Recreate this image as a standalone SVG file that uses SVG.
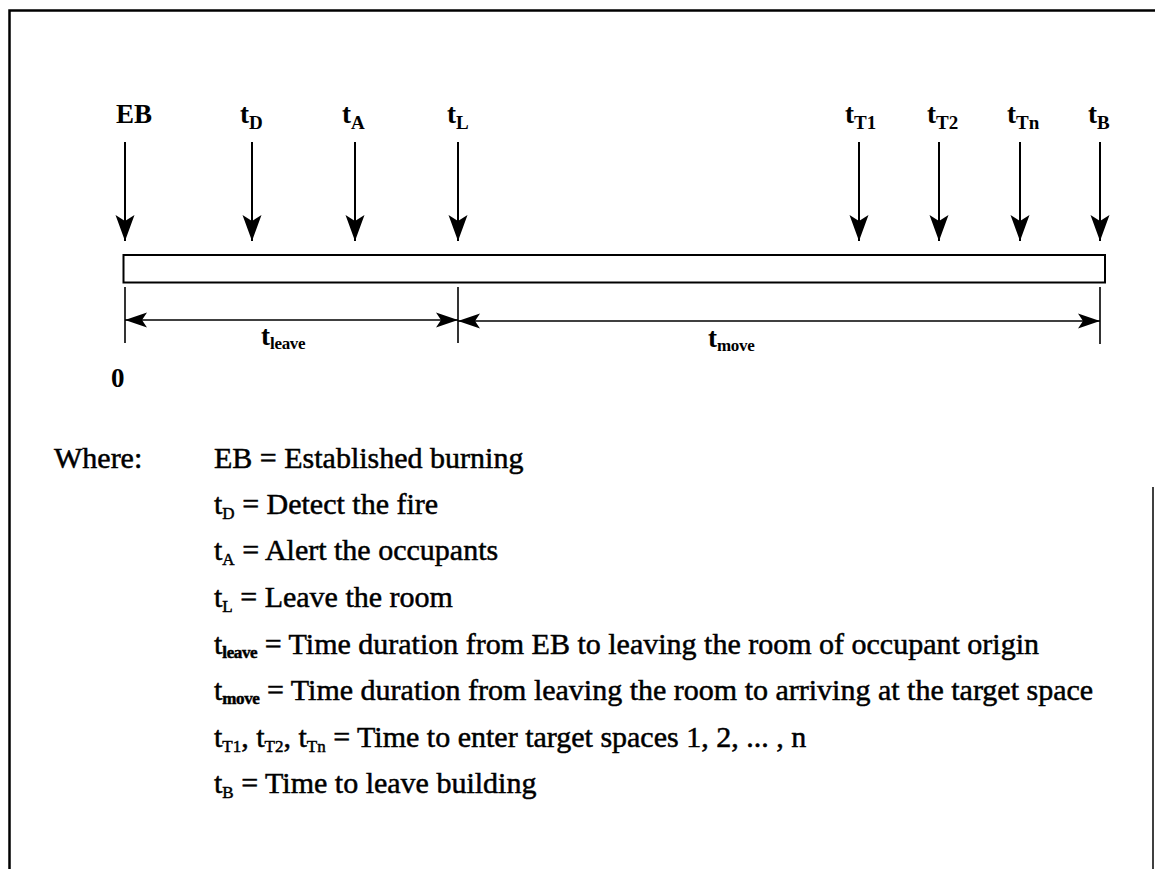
<svg xmlns="http://www.w3.org/2000/svg" width="1155" height="869" viewBox="0 0 1155 869">
<style>
.lbl{font-family:"Liberation Serif","Times New Roman",serif;font-weight:bold;font-size:27px;fill:#000}
.sub{font-size:19px}
.dsub{font-size:17px;letter-spacing:-0.3px}
.leg{font-family:"Liberation Serif","Times New Roman",serif;font-size:30px;fill:#000;stroke:#000;stroke-width:0.5px}
.lsub{font-size:17px}
.lsub2{font-size:17px;font-weight:bold;letter-spacing:-0.4px}
.ln{stroke:#000;stroke-width:2;fill:none}
.tk{stroke:#000;stroke-width:1.6;fill:none}
</style>
<defs>
<marker id="ah" markerUnits="userSpaceOnUse" markerWidth="30" markerHeight="24" refX="0" refY="0" viewBox="-27 -12 29 24" orient="auto">
<path d="M0,0 L-26,-9.5 L-20,0 L-26,9.5 Z" fill="#000"/>
</marker>
<marker id="dh" markerUnits="userSpaceOnUse" markerWidth="26" markerHeight="20" refX="0" refY="0" viewBox="-24 -10 26 20" orient="auto">
<path d="M0,0 L-22,-7.5 L-17,0 L-22,7.5 Z" fill="#000"/>
</marker>
</defs>
<rect width="1155" height="869" fill="#fff"/>
<g id="frame">
<path d="M9.5,869 L9.5,10.5 L1155,10.5" stroke="#000" stroke-width="2.5" fill="none"/>
<path d="M1153,487 L1153,869" stroke="#000" stroke-width="1.5" fill="none"/>
</g>
<g id="timeline-bar">
<rect x="123.5" y="255" width="981.5" height="27.5" fill="#fff" stroke="#000" stroke-width="2"/>
</g>
<g id="connectors">
<line class="ln" x1="125" y1="142" x2="125" y2="241" marker-end="url(#ah)"/>
<line class="ln" x1="252" y1="142" x2="252" y2="241" marker-end="url(#ah)"/>
<line class="ln" x1="355" y1="142" x2="355" y2="241" marker-end="url(#ah)"/>
<line class="ln" x1="458" y1="142" x2="458" y2="241" marker-end="url(#ah)"/>
<line class="ln" x1="859" y1="142" x2="859" y2="241" marker-end="url(#ah)"/>
<line class="ln" x1="939" y1="142" x2="939" y2="241" marker-end="url(#ah)"/>
<line class="ln" x1="1020" y1="142" x2="1020" y2="241" marker-end="url(#ah)"/>
<line class="ln" x1="1100" y1="142" x2="1100" y2="241" marker-end="url(#ah)"/>
<line class="tk" x1="125" y1="287" x2="125" y2="343"/>
<line class="tk" x1="458" y1="287" x2="458" y2="343"/>
<line class="tk" x1="1100" y1="287" x2="1100" y2="344"/>
<line class="tk" x1="291" y1="320" x2="125" y2="320" marker-end="url(#dh)"/>
<line class="tk" x1="291" y1="320" x2="458" y2="320" marker-end="url(#dh)"/>
<line class="tk" x1="778" y1="321" x2="458" y2="321" marker-end="url(#dh)"/>
<line class="tk" x1="778" y1="321" x2="1100" y2="321" marker-end="url(#dh)"/>
</g>
<g id="event-labels">
<text class="lbl" x="116" y="123">EB</text>
<text class="lbl" x="240" y="123">t<tspan class="sub" dy="6">D</tspan></text>
<text class="lbl" x="342" y="123">t<tspan class="sub" dy="6">A</tspan></text>
<text class="lbl" x="447" y="123">t<tspan class="sub" dy="6">L</tspan></text>
<text class="lbl" x="845" y="123">t<tspan class="sub" dy="6">T1</tspan></text>
<text class="lbl" x="927" y="123">t<tspan class="sub" dy="6">T2</tspan></text>
<text class="lbl" x="1007" y="123">t<tspan class="sub" dy="6">Tn</tspan></text>
<text class="lbl" x="1088" y="123">t<tspan class="sub" dy="6">B</tspan></text>
</g>
<g id="duration-labels">
<text class="lbl" x="261" y="345">t<tspan class="dsub" dy="4">leave</tspan></text>
<text class="lbl" x="708" y="347">t<tspan class="dsub" dy="4">move</tspan></text>
<text class="lbl" x="111" y="387">0</text>
</g>
<g id="legend">
<text class="leg" x="54" y="468">Where:</text>
<text class="leg" x="214" y="468">EB = Established burning</text>
<text class="leg" x="214" y="514">t<tspan class="lsub" dy="5">D</tspan><tspan dy="-5"> = Detect the fire</tspan></text>
<text class="leg" x="214" y="560">t<tspan class="lsub" dy="5">A</tspan><tspan dy="-5"> = Alert the occupants</tspan></text>
<text class="leg" x="214" y="607">t<tspan class="lsub" dy="5">L</tspan><tspan dy="-5"> = Leave the room</tspan></text>
<text class="leg" x="214" y="654">t<tspan class="lsub2" dy="4">leave</tspan><tspan dy="-4"> = Time duration from EB to leaving the room of occupant origin</tspan></text>
<text class="leg" x="214" y="700">t<tspan class="lsub2" dy="4">move</tspan><tspan dy="-4"> = Time duration from leaving the room to arriving at the target space</tspan></text>
<text class="leg" x="214" y="747">t<tspan class="lsub" dy="5">T1</tspan><tspan dy="-5">, t</tspan><tspan class="lsub" dy="5">T2</tspan><tspan dy="-5">, t</tspan><tspan class="lsub" dy="5">Tn</tspan><tspan dy="-5"> = Time to enter target spaces 1, 2, ... , n</tspan></text>
<text class="leg" x="214" y="793">t<tspan class="lsub" dy="5">B</tspan><tspan dy="-5"> = Time to leave building</tspan></text>
</g>
</svg>
